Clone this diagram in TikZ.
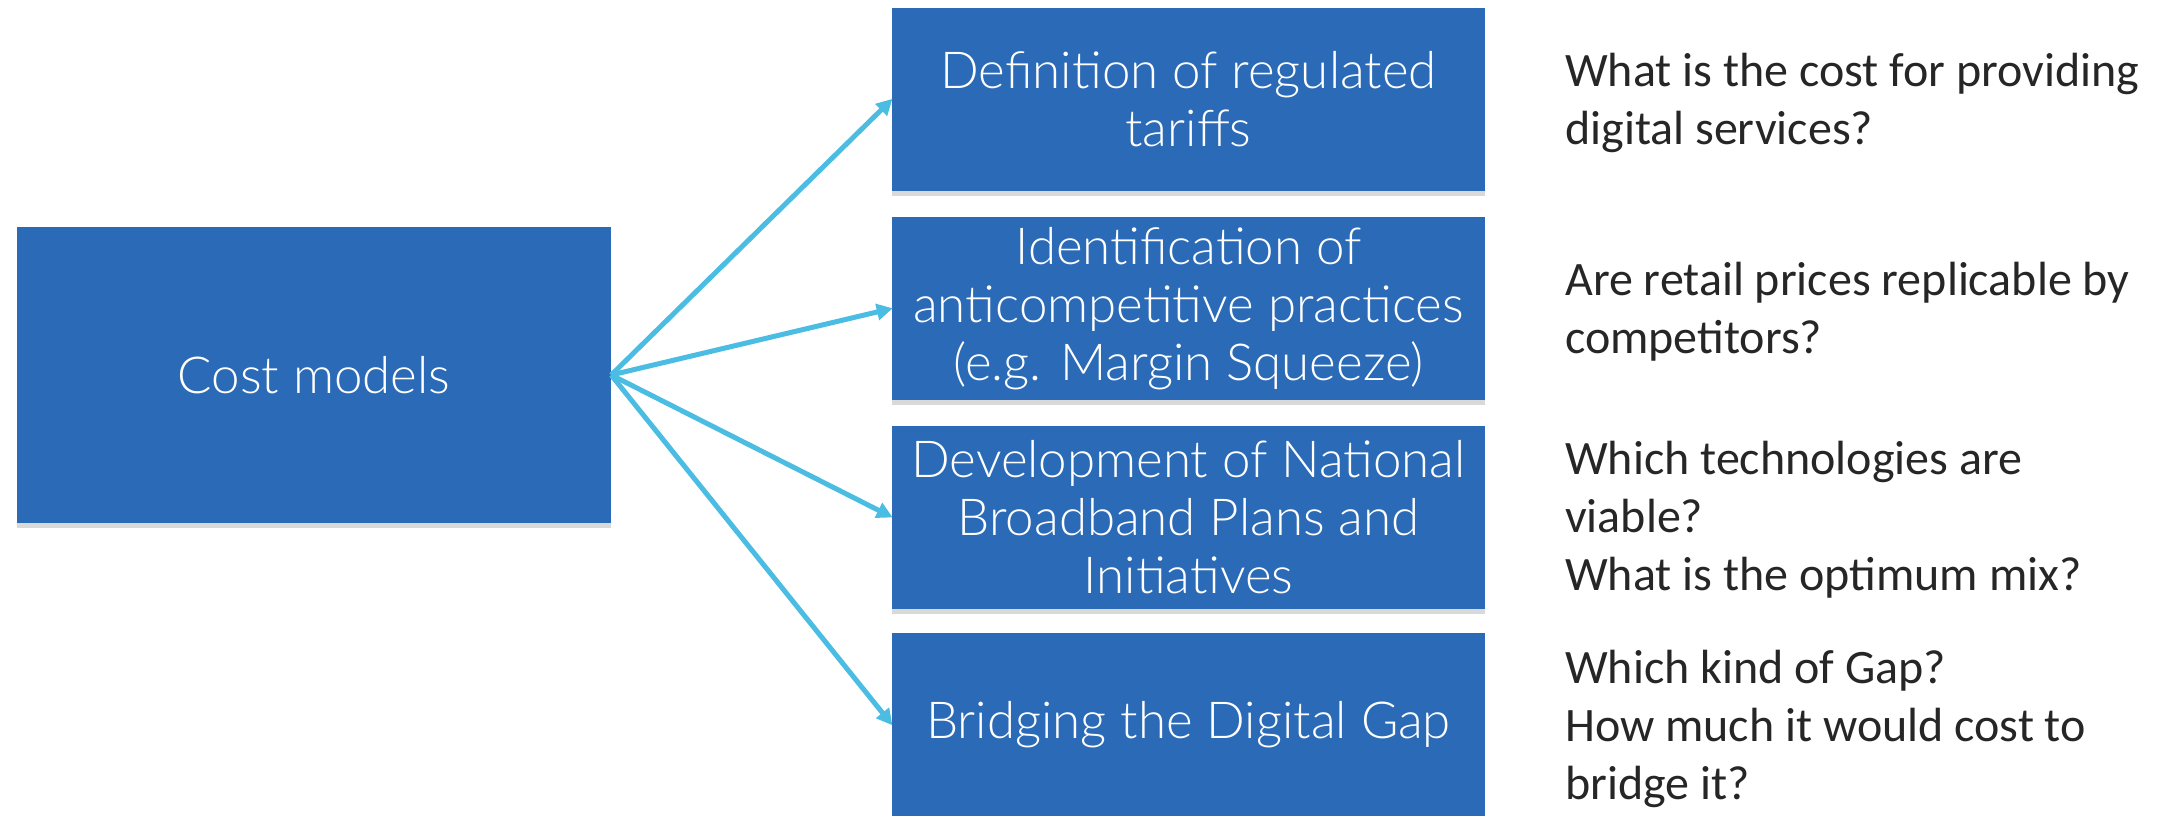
\documentclass[tikz,border=0pt]{standalone}
\usepackage{fontspec}
\setmainfont{Lato}[UprightFont=* Light]
\newfontfamily\qfont{Carlito}
\usetikzlibrary{arrows.meta,shadows}
\definecolor{boxblue}{RGB}{42,106,183}
\definecolor{arrowblue}{RGB}{75,189,227}
\definecolor{qgray}{RGB}{38,38,38}
\tikzset{
  bluebox/.style={fill=boxblue, draw=none, text=white, align=center,
    minimum width=593pt, minimum height=183pt, inner sep=0pt,
    font=\fontsize{51}{58}\selectfont,
    drop shadow={shadow xshift=0pt, shadow yshift=-5pt, opacity=0.25, fill=black!60}},
  qtext/.style={anchor=west, align=left, text=qgray, inner sep=0pt,
    font=\qfont\fontsize{48}{58}\selectfont},
  conn/.style={draw=arrowblue, line width=5pt,
    -{Triangle[length=16pt,width=16pt]}, shorten >=-1pt}
}
\begin{document}
\begin{tikzpicture}[x=1pt,y=-1pt]
\useasboundingbox (0,0) rectangle (2164,815);
\node[bluebox, minimum width=594pt, minimum height=296pt] (cost) at (314,375) {Cost models};
\node[bluebox] (b1) at (1188.5,99.5) {Definition of regulated\\tariffs};
\node[bluebox] (b2) at (1188.5,308.5) {Identification of\\anticompetitive practices\\(e.g. Margin Squeeze)};
\node[bluebox] (b3) at (1188.5,517) {Development of National\\Broadband Plans and\\Initiatives};
\node[bluebox] (b4) at (1188.5,724.5) {Bridging the Digital Gap};
\node[qtext] (q1) at (1565,103) {What is the cost for providing\\digital services?};
\node[qtext] (q2) at (1565,312) {Are retail prices replicable by\\competitors?};
\node[qtext] (q3) at (1565,520) {Which technologies are\\viable?\\What is the optimum mix?};
\node[qtext] (q4) at (1565,729) {Which kind of Gap?\\How much it would cost to\\bridge it?};
\draw[conn] (cost.east) -- (b1.west);
\draw[conn] (cost.east) -- (b2.west);
\draw[conn] (cost.east) -- (b3.west);
\draw[conn] (cost.east) -- (b4.west);
\end{tikzpicture}
\end{document}
